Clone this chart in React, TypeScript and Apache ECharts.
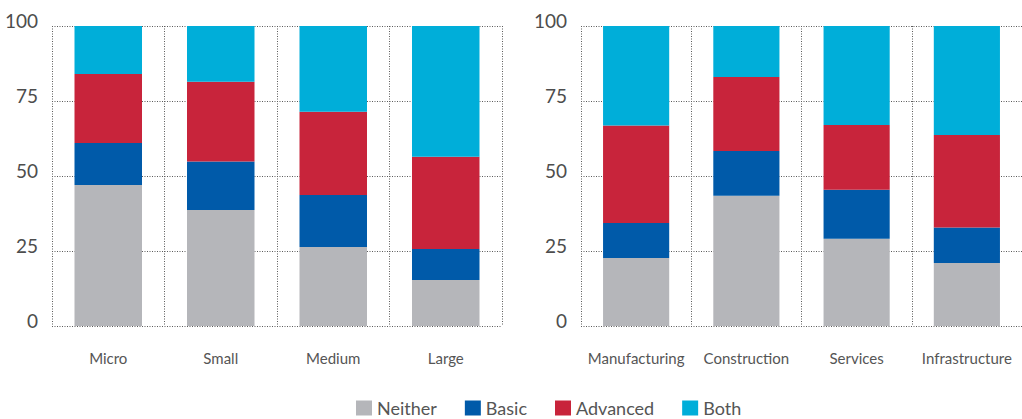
import React, { useEffect, useRef } from "react";
import * as echarts from "echarts";

const sizeCategories = ["Micro", "Small", "Medium", "Large"];
const sectorCategories = ["Manufacturing", "Construction", "Services", "Infrastructure"];
const seriesNames = ["Neither", "Basic", "Advanced", "Both"];
const colors = ["#b5b6ba", "#005aa9", "#c8243b", "#00aed9"];

const sizeNeither = [47, 38.7, 26.3, 15.3];
const sizeBasic = [14, 16.1, 17.4, 10.4];
const sizeAdvanced = [23, 26.6, 27.7, 30.7];
const sizeBoth = [16, 18.6, 28.6, 43.6];

const sectorNeither = [22.7, 43.4, 29.1, 21];
const sectorBasic = [11.6, 14.9, 16.3, 11.8];
const sectorAdvanced = [32.5, 24.7, 21.6, 30.9];
const sectorBoth = [33.2, 17, 33, 36.3];

const yTicks = [0, 25, 50, 75, 100];

const FONT = "Lato, sans-serif";

export default function App() {
  const ref = useRef<HTMLDivElement>(null);
  useEffect(() => {
    if (!ref.current) return;
    const chart = echarts.init(ref.current, null, { renderer: "svg" });
    const dotted = { color: "#5a5a5a", width: 1, type: [1, 1.5] as number[] };
    const xAxisBase = (data: string[], gridIndex: number) => ({
      type: "category" as const,
      gridIndex,
      data,
      boundaryGap: true,
      axisLine: { show: false },
      axisTick: { show: false },
      splitLine: { show: true, lineStyle: dotted },
      axisLabel: { interval: 0, margin: 24, fontSize: 15, color: "#555", fontFamily: FONT },
    });
    const yAxisBase = (gridIndex: number) => ({
      type: "value" as const,
      gridIndex,
      min: yTicks[0],
      max: yTicks[yTicks.length - 1],
      interval: 25,
      axisLine: { show: false },
      axisTick: { show: false },
      splitLine: { show: true, lineStyle: dotted },
      axisLabel: {
        margin: 14,
        fontSize: 19,
        color: "#4d4d4d",
        fontFamily: FONT,
        verticalAlign: "bottom",
        lineHeight: 12,
      },
    });
    const sizeData = [sizeNeither, sizeBasic, sizeAdvanced, sizeBoth];
    const sectorData = [sectorNeither, sectorBasic, sectorAdvanced, sectorBoth];
    const series: any[] = [];
    seriesNames.forEach((name, i) => {
      series.push({
        name,
        type: "bar",
        stack: "a",
        xAxisIndex: 0,
        yAxisIndex: 0,
        barWidth: "60%",
        itemStyle: { color: colors[i] },
        data: sizeData[i],
      });
      series.push({
        name,
        type: "bar",
        stack: "b",
        xAxisIndex: 1,
        yAxisIndex: 1,
        barWidth: "60%",
        itemStyle: { color: colors[i] },
        data: sectorData[i],
      });
    });
    chart.setOption({
      animation: false,
      textStyle: { fontFamily: FONT },
      grid: [
        { left: 52, width: 450, top: 26, bottom: 93 },
        { left: 581, width: 451, top: 26, bottom: 93 },
      ],
      xAxis: [xAxisBase(sizeCategories, 0), xAxisBase(sectorCategories, 1)],
      yAxis: [yAxisBase(0), yAxisBase(1)],
      legend: {
        data: seriesNames,
        left: 356,
        top: 399,
        padding: 0,
        itemWidth: 16,
        itemHeight: 15,
        itemGap: 28,
        icon: "rect",
        textStyle: { fontSize: 18, lineHeight: 16, color: "#555", fontFamily: FONT },
      },
      series,
    });
    return () => chart.dispose();
  }, []);
  return (
    <div
      ref={ref}
      style={{ position: "fixed", left: 0, top: 0, width: 1022, height: 419, background: "#fff" }}
    />
  );
}
